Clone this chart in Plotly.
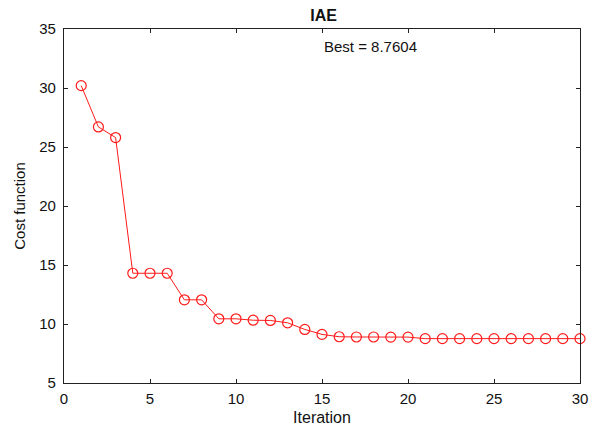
import plotly.graph_objects as go

iterations = list(range(1, 31))
cost = [30.2, 26.7, 25.8, 14.3, 14.3, 14.3, 12.05, 12.05, 10.44, 10.44,
        10.32, 10.3, 10.1, 9.54, 9.12, 8.92, 8.9, 8.9, 8.89, 8.89,
        8.7604, 8.7604, 8.7604, 8.7604, 8.7604, 8.7604, 8.7604, 8.7604, 8.7604, 8.7604]
x_ticks = [0, 5, 10, 15, 20, 25, 30]
y_ticks = [5, 10, 15, 20, 25, 30, 35]
title_text = "IAE"
best_text = "Best = 8.7604"

font_family = "Liberation Sans, Arial, sans-serif"

fig = go.Figure()
fig.add_trace(go.Scatter(
    x=iterations, y=cost, mode="lines+markers",
    line=dict(color="#ff1a1a", width=1),
    marker=dict(symbol="circle-open", size=10, color="#ff1a1a", line=dict(width=1.2, color="#ff1a1a")),
    showlegend=False, cliponaxis=False,
))

axis_common = dict(
    showline=True, linecolor="#222", linewidth=1.2, mirror="ticks",
    ticks="inside", ticklen=4, tickcolor="#222", tickwidth=1,
    showgrid=False, zeroline=False,
    tickfont=dict(family=font_family, size=15, color="#111"),
)

fig.update_layout(
    width=592, height=427,
    margin=dict(l=55, r=16, t=19, b=51),
    paper_bgcolor="white", plot_bgcolor="white",
    title=dict(text="<b>" + title_text + "</b>", xref="paper", x=0.503, xanchor="center",
               yref="container", y=0.982, yanchor="middle",
               font=dict(family=font_family, size=16, color="#111")),
    xaxis=dict(range=[0, 30], tickvals=x_ticks, ticklabelstandoff=2,
               title=dict(text="Iteration", font=dict(family=font_family, size=16, color="#111"), standoff=5),
               **axis_common),
    yaxis=dict(range=[5, 35], tickvals=y_ticks, ticklabelstandoff=4,
               title=dict(text="Cost function", font=dict(family=font_family, size=15, color="#111"), standoff=9),
               **axis_common),
    annotations=[dict(x=15, y=33.5, xref="x", yref="y", text=best_text, showarrow=False,
                      xanchor="left", yanchor="middle",
                      font=dict(family=font_family, size=15, color="#111"))],
)

fig.write_html("out.html")
